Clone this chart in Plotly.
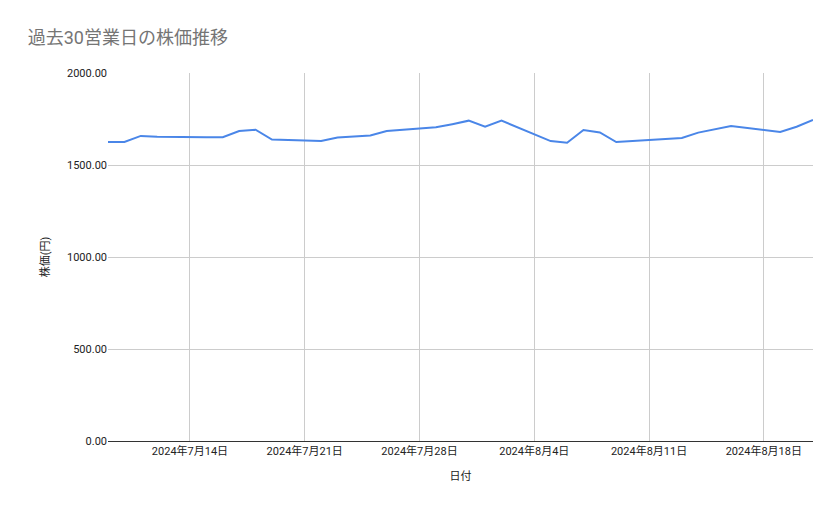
import plotly.graph_objects as go

dates = ["2024-07-09","2024-07-10","2024-07-11","2024-07-12","2024-07-15","2024-07-16","2024-07-17","2024-07-18","2024-07-19",
         "2024-07-22","2024-07-23","2024-07-24","2024-07-25","2024-07-26","2024-07-29","2024-07-30","2024-07-31","2024-08-01","2024-08-02",
         "2024-08-05","2024-08-06","2024-08-07","2024-08-08","2024-08-09","2024-08-12","2024-08-13","2024-08-14","2024-08-15","2024-08-16",
         "2024-08-19","2024-08-20","2024-08-21"]
prices = [1625,1625,1658,1654,1651,1651,1685,1692,1638,
          1630,1650,1656,1660,1685,1705,1722,1741,1708,1741,
          1630,1621,1690,1677,1625,1640,1647,1676,1694,1712,
          1679,1708,1745]

fig = go.Figure(go.Scatter(x=dates, y=prices, mode="lines", line=dict(color="#4a86e8", width=2)))
fig.update_layout(
    width=823, height=503, paper_bgcolor="white", plot_bgcolor="white",
    margin=dict(l=100, r=18, t=65, b=70),
    title=dict(text="過去30営業日の株価推移", x=0.024, y=0.94, xanchor="left", yanchor="middle",
               font=dict(family="Roboto, Noto Sans CJK JP", size=18, color="#757575")),
    font=dict(family="Roboto, Noto Sans CJK JP", size=11, color="#222"),
    showlegend=False,
)
fig.update_xaxes(type="date", range=["2024-07-09", "2024-08-21"], tick0="2024-07-14", dtick=7*86400000,
                 tickformat="%Y年%-m月%-d日", showgrid=True, gridcolor="#cccccc", showline=True,
                 linecolor="#333", title=dict(text="日付", font=dict(size=11)), ticks="")
fig.update_yaxes(range=[0, 2000], dtick=500, tickformat=".2f", showgrid=True, gridcolor="#cccccc",
                 zeroline=False, title=dict(text="株価(円)", font=dict(size=11)), ticks="")
fig.write_html("out.html")
